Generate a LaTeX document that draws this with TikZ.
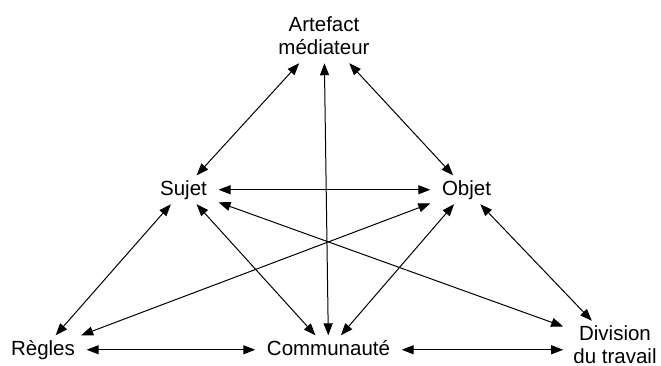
\documentclass[tikz,border=0pt]{standalone}
\usepackage{fontspec}
\setmainfont{Liberation Sans}
\usetikzlibrary{arrows.meta}
\begin{document}
\begin{tikzpicture}[x=1pt,y=-1pt,
  lbl/.style={font=\fontsize{20.5}{23}\selectfont, inner xsep=11.5pt, inner ysep=4.5pt, text height=15pt, text depth=4.5pt},
  multi/.style={font=\fontsize{20.5}{23}\selectfont, align=center},
  link/.style={{Triangle[length=12pt,width=9pt]}-{Triangle[length=12pt,width=9pt]}, line width=1pt}]
\useasboundingbox (0,0) rectangle (661,365);
\node[lbl] (suj) at (183.5,189.75) {Sujet};
\node[lbl] (obj) at (466.5,189.75) {Objet};
\node[lbl] (reg) at (43,349.75) {Règles};
\node[lbl] (com) at (328.5,349.75) {Communauté};
\node[multi, inner xsep=10pt, inner ysep=8pt] (art) at (324,36) {Artefact\\médiateur};
\node[multi, inner xsep=10pt, inner ysep=5pt] (div) at (615,345) {Division\\du travail};
\draw[link] (art) -- (suj);
\draw[link] (art) -- (com);
\draw[link] (art) -- (obj);
\draw[link] (suj) -- (obj);
\draw[link] (suj) -- (reg);
\draw[link] (suj) -- (com);
\draw[link] (suj) -- (div);
\draw[link] (obj) -- (reg);
\draw[link] (obj) -- (com);
\draw[link] (obj) -- (div);
\draw[link] (reg) -- (com);
\draw[link] (com) -- (div.west |- com);
\end{tikzpicture}
\end{document}
